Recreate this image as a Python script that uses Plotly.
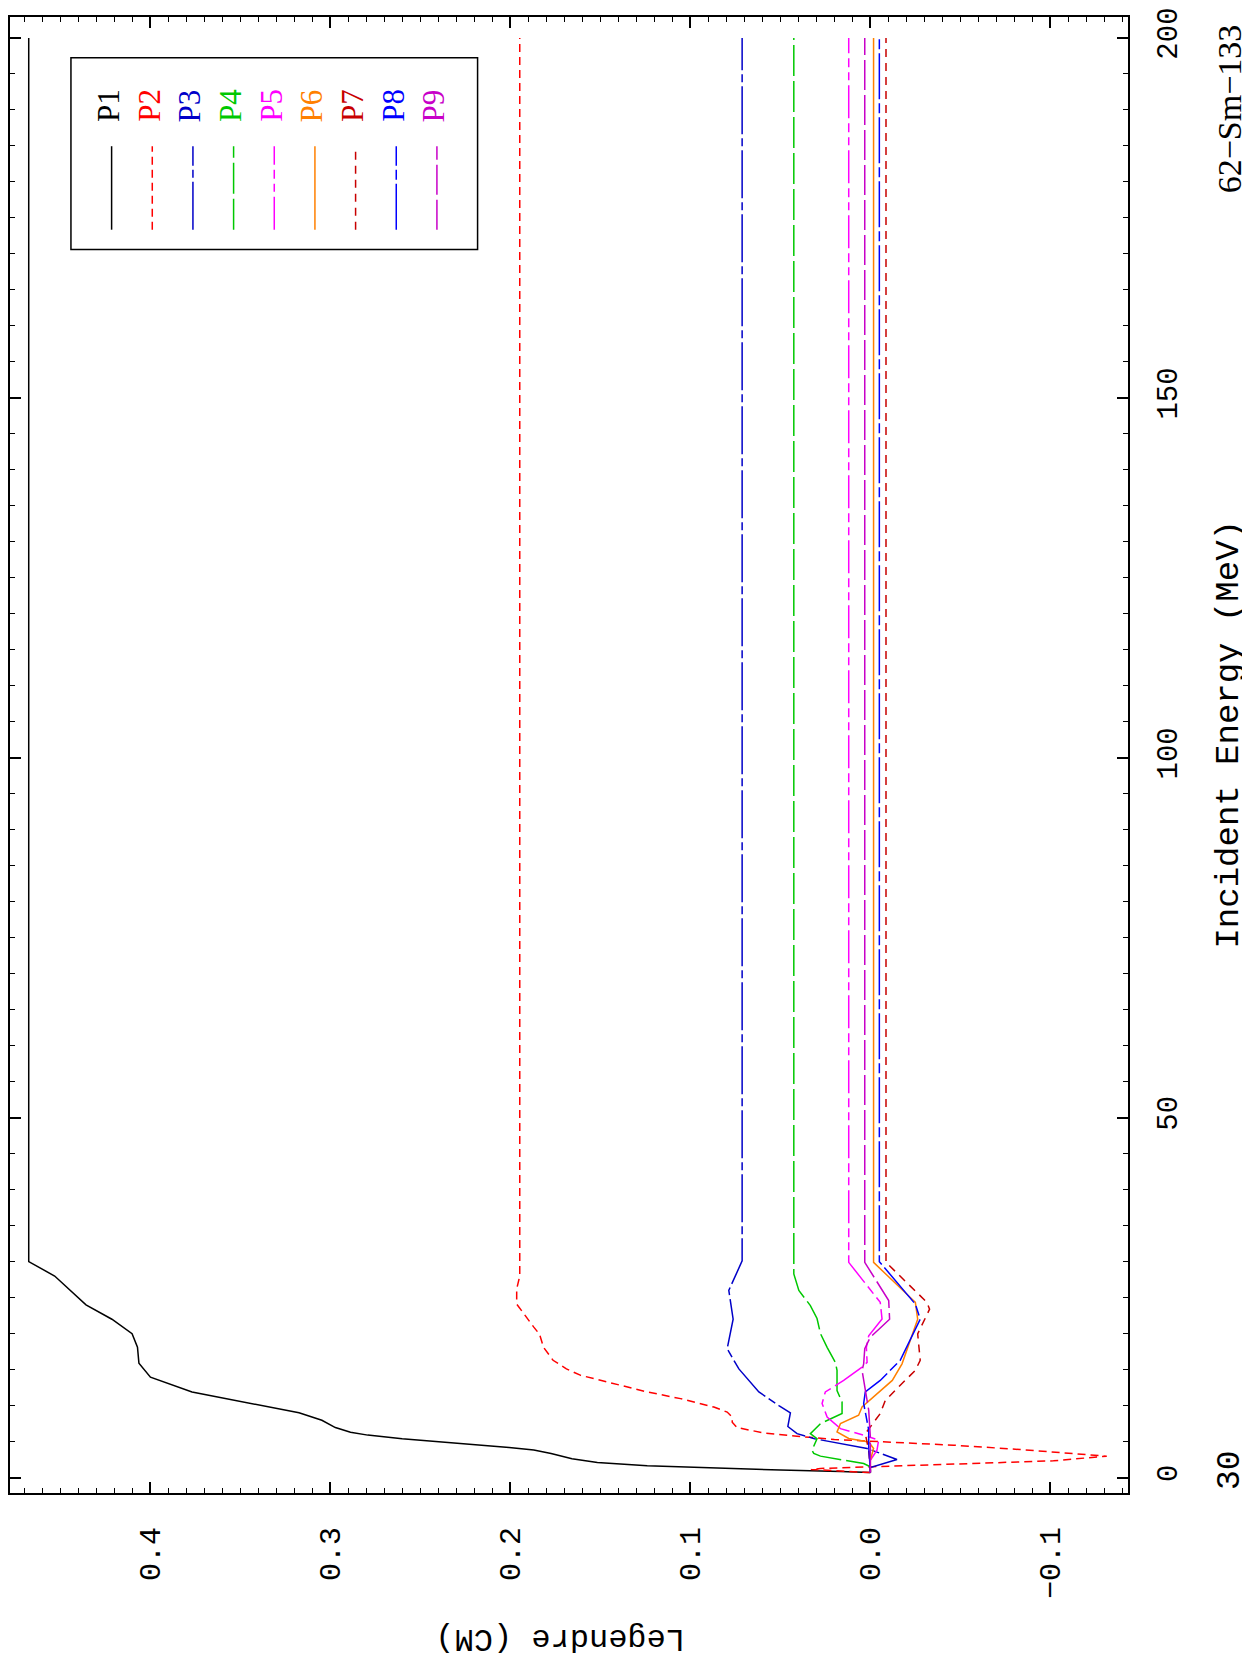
import plotly.graph_objects as go

# ---- data: (Incident energy in MeV, Legendre coefficient) ----
energy_p1 = [0.7, 0.85, 1.04, 1.3, 1.64, 2.1, 2.62, 3.36, 3.82, 4.19, 4.74, 5.4, 5.9, 6.3, 6.95, 7.97, 9.0, 10.6, 11.9, 13.95, 15.9, 18.1, 20.0, 22.0, 24.0, 28.0, 30.0, 200]
legendre_p1 = [0.0, 0.0166, 0.0499, 0.0869, 0.1239, 0.1516, 0.1657, 0.1773, 0.1869, 0.2006, 0.2282, 0.26, 0.2791, 0.2887, 0.2971, 0.3046, 0.3173, 0.3512, 0.3767, 0.3998, 0.4062, 0.407, 0.41, 0.4212, 0.4356, 0.453, 0.4674, 0.4674]

energy_p2 = [0.7, 0.9, 1.13, 1.27, 1.5, 1.82, 2.33, 2.98, 3.9, 4.5, 5.05, 5.3, 5.75, 6.2, 6.95, 7.7, 8.4, 9.1, 9.8, 10.97, 11.9, 13.0, 14.2, 15.1, 16.3, 18.1, 19.9, 20.9, 24.1, 26.2, 28.0, 30.0, 200]
legendre_p2 = [0.0, 0.02, 0.033, 0.0277, 0.0, -0.0462, -0.1017, -0.1313, -0.0832, -0.0462, 0.0, 0.02, 0.0407, 0.0592, 0.074, 0.0767, 0.0767, 0.0795, 0.0869, 0.1054, 0.1239, 0.1424, 0.1608, 0.1688, 0.1762, 0.1815, 0.1837, 0.1869, 0.1964, 0.1964, 0.1947, 0.1947, 0.1947]

energy_p3 = [0.7, 1.41, 2.52, 4.04, 5.4, 6.1, 7.1, 9.0, 10.0, 11.9, 15.1, 17.9, 22.0, 26.0, 30.1, 200]
legendre_p3 = [0.0, 0.0, -0.0148, 0.0018, 0.031, 0.0407, 0.0458, 0.0444, 0.0508, 0.0619, 0.073, 0.0795, 0.0762, 0.0786, 0.0712, 0.0712]

energy_p4 = [0.7, 1.5, 1.96, 2.98, 3.35, 3.8, 5.4, 6.1, 7.5, 8.9, 10.5, 12.1, 14.9, 16.0, 18.1, 20.0, 22.1, 23.9, 26.0, 28.3, 200]
legendre_p4 = [0.0, 0.0, 0.0037, 0.0277, 0.0314, 0.0324, 0.0296, 0.0333, 0.0277, 0.0157, 0.0157, 0.0185, 0.0185, 0.0194, 0.024, 0.0277, 0.0296, 0.0333, 0.0397, 0.0425, 0.0425]

energy_p5 = [0.7, 1.3, 2.4, 3.8, 5.2, 5.9, 6.8, 8.4, 10.3, 11.9, 13.5, 15.35, 16.0, 18.1, 19.7, 22.04, 24.35, 29.9, 200]
legendre_p5 = [0.0, 0.0, 0.0, -0.0037, -0.0046, 0.0037, 0.0166, 0.024, 0.0268, 0.025, 0.0148, 0.0046, 0.0018, 0.0022, 0.0009, -0.0065, -0.0055, 0.012, 0.012]

energy_p6 = [0.7, 2.4, 4.04, 4.96, 5.43, 6.35, 7.5, 8.66, 9.8, 13.5, 15.8, 22.0, 24.35, 29.9, 200]
legendre_p6 = [0.0, 0.0, -0.0018, 0.0009, 0.012, 0.0185, 0.0166, 0.0065, 0.0046, -0.0122, -0.0176, -0.0263, -0.025, -0.0018, -0.0018]

energy_p7 = [0.7, 1.0, 3.8, 6.1, 8.9, 10.7, 12.6, 14.9, 16.3, 19.97, 23.4, 24.35, 29.9, 200]
legendre_p7 = [0.0, 0.0, 0.0009, 0.0028, -0.0055, -0.0083, -0.0157, -0.025, -0.0277, -0.0263, -0.0329, -0.0314, -0.0087, -0.0087]

energy_p8 = [0.7, 1.0, 4.3, 6.6, 10.3, 11.9, 13.5, 16.3, 22.0, 24.1, 30.0, 200]
legendre_p8 = [0.0, 0.0, 0.0009, 0.0009, 0.0037, 0.0028, -0.0055, -0.0166, -0.0277, -0.025, -0.005, -0.005]

energy_p9 = [0.7, 5.65, 9.35, 12.1, 14.9, 15.8, 17.9, 19.5, 22.0, 24.6, 29.9, 200]
legendre_p9 = [0.0, 0.0, 0.0009, 0.0028, 0.0046, 0.0037, 0.0031, 0.0, -0.0107, -0.0102, 0.0031, 0.0031]

series_names = ["P1", "P2", "P3", "P4", "P5", "P6", "P7", "P8", "P9"]
series_colors = ["#000000", "#ff0000", "#0000c8", "#00c800", "#ff00ff", "#ff8000", "#c80000", "#0000ff", "#c800c8"]
series_dashes = ["solid", "8px,5px", "48px,4px,8px,4px", "31px,5px", "33px,5px,8px,5px,9px,5px",
                 "solid", "8px,6px", "46px,4px,10px,4px", "30px,5px"]
energies = [energy_p1, energy_p2, energy_p3, energy_p4, energy_p5, energy_p6, energy_p7, energy_p8, energy_p9]
legendres = [legendre_p1, legendre_p2, legendre_p3, legendre_p4, legendre_p5, legendre_p6, legendre_p7, legendre_p8, legendre_p9]

energy_ticks = [0, 50, 100, 150, 200]
legendre_ticks = [-0.1, 0.0, 0.1, 0.2, 0.3, 0.4]
legendre_ticktext = ["\u22120.1", "0.0", "0.1", "0.2", "0.3", "0.4"]

# ---- layout geometry ----
# the page body adds an 8px offset, so the figure is laid out in page pixels minus 8
OFF = 8
W, H = 1242, 1654
L, R, T, B = 1, 1120, 0, 1485   # plot area in figure pixels


def px(xpage):
    return (xpage - OFF - L) / (R - L)


def py(ypage):
    return 1 - (ypage - OFF - T) / (B - T)


fig = go.Figure()
for name, e, v, c, d in zip(series_names, energies, legendres, series_colors, series_dashes):
    fig.add_trace(go.Scatter(x=v, y=e, mode="lines", name=name, showlegend=False,
                             line=dict(color=c, width=1.5, dash=d)))

mono = "Liberation Mono"
serif = "Liberation Serif"

shapes = []
annotations = []

# legend box drawn manually (rotated layout)
shapes.append(dict(type="rect", xref="paper", yref="paper",
                   x0=px(70), x1=px(477), y0=py(242), y1=py(49),
                   line=dict(color="black", width=1.5), fillcolor="white", layer="above"))
for i, (name, c, d) in enumerate(zip(series_names, series_colors, series_dashes)):
    xc = 110.7 + 40.7 * i
    shapes.append(dict(type="line", xref="paper", yref="paper",
                       x0=px(xc), x1=px(xc), y0=py(222), y1=py(138),
                       line=dict(color=c, width=1.5, dash=d), layer="above"))
    annotations.append(dict(text=name, xref="paper", yref="paper", x=px(xc - 3), y=py(97),
                            showarrow=False, textangle=-90, xanchor="center", yanchor="middle",
                            font=dict(family=serif, size=31, color=c)))

annotations.append(dict(text="Incident Energy (MeV)", xref="paper", yref="paper",
                        x=px(1229), y=py(730), showarrow=False, textangle=-90,
                        xanchor="center", yanchor="middle",
                        font=dict(family=mono, size=34, color="black")))
annotations.append(dict(text="Legendre (CM)", xref="paper", yref="paper",
                        x=px(560), y=py(1640), showarrow=False, textangle=180,
                        xanchor="center", yanchor="middle",
                        font=dict(family=mono, size=32, color="black")))
annotations.append(dict(text="62\u2212Sm\u2212133", xref="paper", yref="paper",
                        x=px(1230), y=py(100), showarrow=False, textangle=-90,
                        xanchor="center", yanchor="middle",
                        font=dict(family=serif, size=34, color="black")))
annotations.append(dict(text="30", xref="paper", yref="paper",
                        x=px(1230), y=py(1470), showarrow=False, textangle=-90,
                        xanchor="center", yanchor="middle",
                        font=dict(family=mono, size=33, color="black")))

fig.update_layout(
    width=W, height=H,
    margin=dict(l=L, r=W - R, t=T, b=H - B, pad=0),
    paper_bgcolor="white", plot_bgcolor="white",
    showlegend=False,
    shapes=shapes, annotations=annotations,
    xaxis=dict(range=[0.4778, -0.1431], tickmode="array", tickvals=legendre_ticks,
               ticktext=legendre_ticktext, tickangle=-90, ticks="inside", ticklen=11,
               tickwidth=1.5, tickcolor="black", showline=True, linewidth=2, linecolor="black",
               mirror="allticks", showgrid=False, zeroline=False,
               minor=dict(tick0=0, dtick=0.01, ticks="inside", ticklen=5, tickwidth=1, tickcolor="black"),
               tickfont=dict(family=mono, size=30, color="black"), ticklabelstandoff=20,
               ticklabeloverflow="allow"),
    yaxis=dict(range=[-2.14, 202.9], side="right", tickmode="array", tickvals=energy_ticks,
               tickangle=-90, ticks="inside", ticklen=11, tickwidth=1.5, tickcolor="black",
               showline=True, linewidth=2, linecolor="black", mirror="allticks",
               showgrid=False, zeroline=False,
               minor=dict(tick0=0, dtick=5, ticks="inside", ticklen=5, tickwidth=1, tickcolor="black"),
               tickfont=dict(family=mono, size=29, color="black"), ticklabelstandoff=12,
               ticklabeloverflow="allow"),
)

fig.write_html("out.html")
